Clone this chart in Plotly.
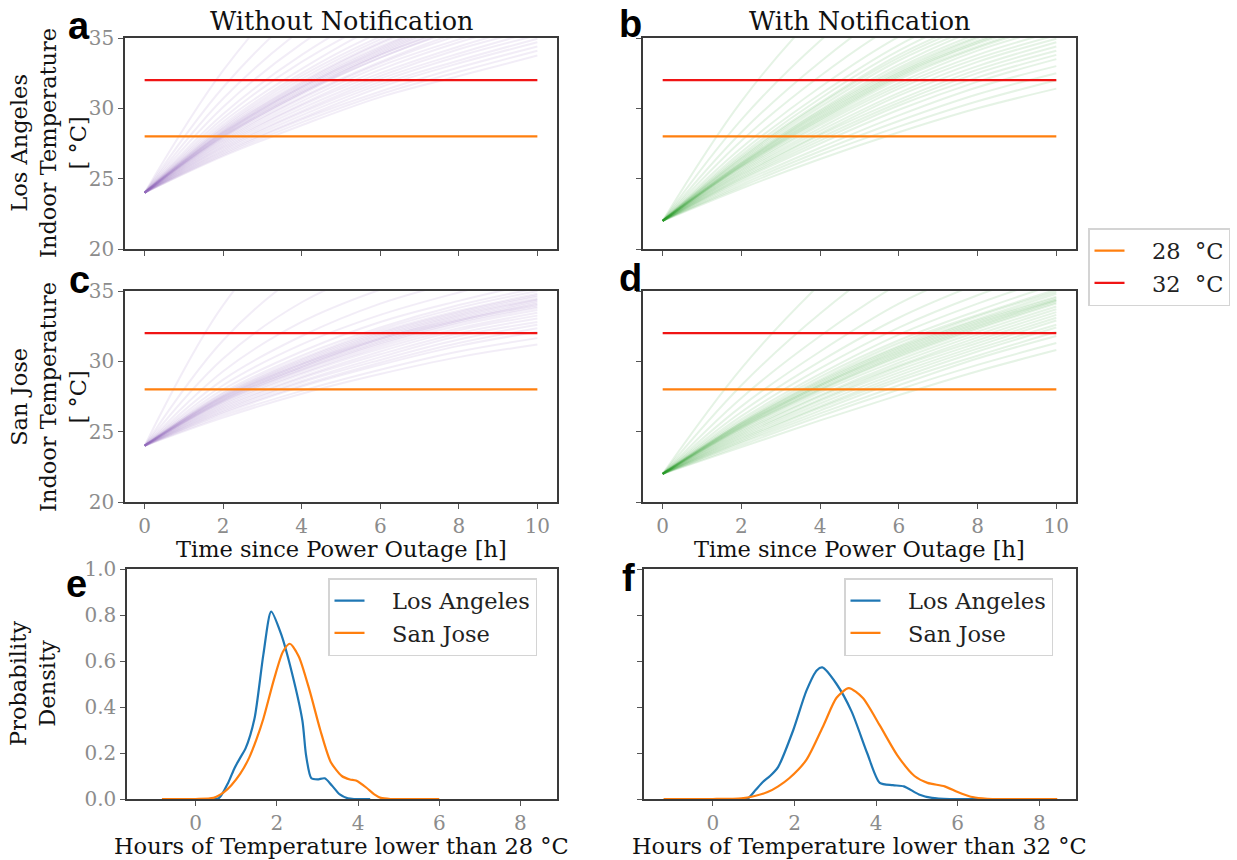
import plotly.graph_objects as go

# ---------------- data ----------------
T_HOURS = [0, 2, 4, 6, 8, 10]

# Indoor temperature trajectories (values at T_HOURS)
LA_WITHOUT = [
    [24, 32.7, 39.0, 43.1, 46.2, 48.4],
    [24, 31.5, 37.0, 40.8, 43.4, 45.5],
    [24, 30.7, 35.6, 39.2, 41.6, 43.5],
    [24, 30.1, 34.6, 38.0, 40.2, 42.0],
    [24, 29.6, 33.8, 37.0, 39.1, 40.9],
    [24, 29.3, 33.3, 36.3, 38.4, 40.2],
    [24, 29.05, 32.8, 35.9, 37.9, 39.7],
    [24, 28.85, 32.5, 35.4, 37.5, 39.3],
    [24, 28.7, 32.3, 35.1, 37.3, 39.1],
    [24, 28.6, 32.1, 34.9, 37.1, 38.9],
    [24, 28.5, 31.9, 34.7, 36.9, 38.7],
    [24, 28.42, 31.8, 34.6, 36.7, 38.5],
    [24, 28.35, 31.7, 34.4, 36.5, 38.3],
    [24, 28.3, 31.6, 34.3, 36.5, 38.2],
    [24, 28.25, 31.5, 34.2, 36.4, 38.1],
    [24, 28.2, 31.5, 34.1, 36.3, 37.9],
    [24, 28.15, 31.4, 34.0, 36.2, 37.8],
    [24, 28.1, 31.3, 33.9, 36.1, 37.7],
    [24, 28.05, 31.2, 33.8, 35.9, 37.6],
    [24, 28.0, 31.1, 33.8, 35.8, 37.5],
    [24, 27.95, 31.1, 33.6, 35.7, 37.4],
    [24, 27.9, 31.0, 33.6, 35.6, 37.2],
    [24, 27.8, 30.8, 33.3, 35.4, 37.0],
    [24, 27.7, 30.7, 33.2, 35.2, 36.8],
    [24, 27.6, 30.5, 33.0, 34.9, 36.5],
    [24, 27.5, 30.3, 32.75, 34.7, 36.25],
    [24, 27.4, 30.2, 32.5, 34.4, 36.0],
    [24, 27.3, 30.0, 32.3, 34.2, 35.7],
    [24, 27.2, 29.8, 32.1, 33.9, 35.5],
    [24, 27.1, 29.7, 31.9, 33.7, 35.2],
    [24, 27.0, 29.5, 31.7, 33.4, 34.95],
    [24, 26.9, 29.3, 31.5, 33.2, 34.7],
    [24, 26.8, 29.2, 31.2, 32.9, 34.4],
    [24, 26.7, 29.0, 31.0, 32.6, 34.1],
    [24, 26.6, 28.8, 30.8, 32.3, 33.75],
]

LA_WITH = [
    [22, 30.5, 37.0, 42.0, 45.5, 48.0],
    [22, 29.2, 34.8, 39.3, 42.5, 44.9],
    [22, 28.3, 33.3, 37.4, 40.3, 42.5],
    [22, 27.7, 32.3, 36.1, 38.9, 41.0],
    [22, 27.2, 31.5, 35.1, 37.8, 39.8],
    [22, 26.9, 31.0, 34.5, 37.1, 39.15],
    [22, 26.7, 30.7, 34.1, 36.7, 38.7],
    [22, 26.55, 30.4, 33.8, 36.3, 38.3],
    [22, 26.45, 30.3, 33.6, 36.1, 38.1],
    [22, 26.35, 30.1, 33.4, 35.8, 37.7],
    [22, 26.25, 29.9, 33.1, 35.6, 37.4],
    [22, 26.15, 29.8, 32.9, 35.3, 37.1],
    [22, 26.1, 29.7, 32.75, 35.1, 36.9],
    [22, 26.05, 29.6, 32.6, 35.0, 36.8],
    [22, 26.0, 29.5, 32.5, 34.8, 36.6],
    [22, 25.95, 29.4, 32.4, 34.7, 36.5],
    [22, 25.9, 29.3, 32.3, 34.6, 36.3],
    [22, 25.85, 29.2, 32.2, 34.4, 36.2],
    [22, 25.8, 29.1, 32.05, 34.3, 36.05],
    [22, 25.7, 28.95, 31.8, 34.1, 35.8],
    [22, 25.6, 28.8, 31.6, 33.8, 35.5],
    [22, 25.5, 28.6, 31.4, 33.55, 35.2],
    [22, 25.4, 28.4, 31.1, 33.3, 34.95],
    [22, 25.3, 28.2, 30.9, 33.0, 34.7],
    [22, 25.2, 28.1, 30.6, 32.75, 34.4],
    [22, 25.1, 27.9, 30.4, 32.5, 34.1],
    [22, 25.0, 27.7, 30.2, 32.2, 33.8],
    [22, 24.9, 27.5, 29.9, 31.9, 33.5],
    [22, 24.75, 27.2, 29.5, 31.5, 33.0],
    [22, 24.6, 26.95, 29.1, 31.0, 32.5],
    [22, 24.45, 26.7, 28.7, 30.5, 32.0],
    [22, 24.3, 26.4, 28.3, 30.0, 31.4],
]

SJ_WITHOUT = [
    [24, 34.0, 40.2, 44.0, 47.0, 49.0],
    [24, 31.5, 36.3, 39.2, 41.5, 43.0],
    [24, 30.2, 34.2, 36.7, 38.6, 39.8],
    [24, 29.3, 32.8, 35.1, 36.8, 38.2],
    [24, 28.7, 31.8, 34.1, 35.7, 37.0],
    [24, 28.3, 31.2, 33.3, 34.9, 36.3],
    [24, 28.0, 30.7, 32.8, 34.3, 35.6],
    [24, 27.8, 30.4, 32.4, 34.0, 35.2],
    [24, 27.7, 30.2, 32.25, 33.8, 35.0],
    [24, 27.6, 30.1, 32.1, 33.6, 34.8],
    [24, 27.55, 30.0, 32.0, 33.5, 34.7],
    [24, 27.5, 29.9, 31.9, 33.4, 34.6],
    [24, 27.45, 29.8, 31.8, 33.3, 34.45],
    [24, 27.4, 29.8, 31.7, 33.2, 34.4],
    [24, 27.35, 29.7, 31.6, 33.1, 34.3],
    [24, 27.3, 29.6, 31.6, 33.0, 34.2],
    [24, 27.25, 29.6, 31.5, 32.9, 34.1],
    [24, 27.2, 29.5, 31.4, 32.9, 34.0],
    [24, 27.15, 29.4, 31.3, 32.8, 33.9],
    [24, 27.1, 29.35, 31.2, 32.7, 33.8],
    [24, 27.0, 29.2, 31.05, 32.55, 33.65],
    [24, 26.9, 29.1, 30.9, 32.35, 33.45],
    [24, 26.8, 28.9, 30.7, 32.2, 33.25],
    [24, 26.7, 28.8, 30.5, 32.0, 33.05],
    [24, 26.6, 28.6, 30.3, 31.8, 32.8],
    [24, 26.5, 28.5, 30.1, 31.55, 32.6],
    [24, 26.4, 28.3, 29.9, 31.3, 32.35],
    [24, 26.3, 28.2, 29.75, 31.1, 32.1],
    [24, 26.15, 27.9, 29.4, 30.7, 31.65],
    [24, 26.0, 27.7, 29.1, 30.3, 31.2],
]

SJ_WITH = [
    [22, 29.5, 35.5, 40.5, 44.0, 46.5],
    [22, 28.3, 33.4, 37.6, 40.6, 42.9],
    [22, 27.4, 31.8, 35.5, 38.2, 40.25],
    [22, 26.8, 30.7, 34.1, 36.6, 38.6],
    [22, 26.4, 30.0, 33.1, 35.5, 37.5],
    [22, 26.1, 29.5, 32.4, 34.7, 36.6],
    [22, 25.9, 29.1, 31.9, 34.1, 36.0],
    [22, 25.75, 28.9, 31.5, 33.6, 35.5],
    [22, 25.65, 28.7, 31.3, 33.3, 35.1],
    [22, 25.6, 28.6, 31.1, 33.2, 34.95],
    [22, 25.55, 28.5, 31.0, 33.0, 34.8],
    [22, 25.5, 28.4, 30.9, 32.9, 34.6],
    [22, 25.45, 28.3, 30.8, 32.8, 34.5],
    [22, 25.4, 28.3, 30.7, 32.7, 34.4],
    [22, 25.35, 28.2, 30.6, 32.6, 34.35],
    [22, 25.3, 28.1, 30.5, 32.5, 34.3],
    [22, 25.25, 28.0, 30.4, 32.4, 34.2],
    [22, 25.2, 27.95, 30.3, 32.3, 34.1],
    [22, 25.1, 27.8, 30.1, 32.1, 33.9],
    [22, 25.0, 27.6, 29.9, 31.9, 33.7],
    [22, 24.9, 27.5, 29.7, 31.7, 33.5],
    [22, 24.8, 27.3, 29.6, 31.5, 33.3],
    [22, 24.7, 27.2, 29.4, 31.3, 33.1],
    [22, 24.6, 27.0, 29.2, 31.1, 32.9],
    [22, 24.5, 26.8, 29.0, 30.9, 32.6],
    [22, 24.4, 26.7, 28.8, 30.7, 32.4],
    [22, 24.3, 26.5, 28.6, 30.4, 32.1],
    [22, 24.2, 26.3, 28.3, 30.2, 31.8],
    [22, 24.05, 26.1, 28.0, 29.75, 31.3],
    [22, 23.9, 25.8, 27.6, 29.3, 30.8],
]

THRESH_X = [0, 10]
THRESH_28 = [28, 28]
THRESH_32 = [32, 32]

# KDE curves (hours below threshold)
E_LA_X = [-0.3, 0.3, 0.57, 0.8, 0.96, 1.1, 1.23, 1.45, 1.67, 1.86, 2.1, 2.37, 2.63, 2.72, 2.85, 3.0, 3.18, 3.35, 3.55, 3.75, 3.9, 4.3]
E_LA_Y = [0, 0, 0.003, 0.07, 0.135, 0.18, 0.22, 0.35, 0.63, 0.815, 0.72, 0.55, 0.34, 0.19, 0.09, 0.085, 0.09, 0.06, 0.02, 0.003, 0, 0]
E_SJ_X = [-0.83, 0.0, 0.44, 0.7, 0.88, 1.1, 1.32, 1.5, 1.67, 1.93, 2.15, 2.32, 2.54, 2.81, 3.07, 3.33, 3.6, 3.8, 3.95, 4.2, 4.4, 4.56, 4.8, 6.0]
E_SJ_Y = [0, 0, 0.005, 0.03, 0.06, 0.11, 0.18, 0.26, 0.35, 0.52, 0.64, 0.675, 0.62, 0.47, 0.3, 0.16, 0.1, 0.085, 0.08, 0.05, 0.02, 0.005, 0, 0]
F_LA_X = [-0.5, 0.7, 0.86, 1.05, 1.23, 1.4, 1.6, 1.97, 2.29, 2.55, 2.68, 3.03, 3.4, 3.78, 4.09, 4.41, 4.68, 5.05, 5.37, 5.8, 6.5]
F_LA_Y = [0, 0, 0.003, 0.04, 0.075, 0.1, 0.14, 0.3, 0.47, 0.56, 0.572, 0.5, 0.38, 0.2, 0.07, 0.06, 0.055, 0.02, 0.005, 0, 0]
F_SJ_X = [-1.21, 0.0, 0.7, 1.0, 1.34, 1.6, 1.87, 2.29, 2.71, 3.03, 3.33, 3.67, 4.09, 4.52, 4.94, 5.26, 5.68, 6.0, 6.32, 6.6, 6.85, 7.5, 8.44]
F_SJ_Y = [0, 0, 0.003, 0.012, 0.03, 0.055, 0.09, 0.17, 0.32, 0.44, 0.482, 0.44, 0.32, 0.19, 0.1, 0.07, 0.055, 0.03, 0.01, 0.003, 0, 0, 0]

# ---------------- styles ----------------
W, H = 1237, 860
SERIF = "DejaVu Serif"
PURPLE = "rgba(148,103,189,0.12)"
GREEN = "rgba(44,160,44,0.12)"
ORANGE = "#ff7f0e"
RED = "#f01414"
BLUE = "#1f77b4"

fig = go.Figure()

panels = [
    ("x", "y", LA_WITHOUT, PURPLE),
    ("x2", "y2", LA_WITH, GREEN),
    ("x3", "y3", SJ_WITHOUT, PURPLE),
    ("x4", "y4", SJ_WITH, GREEN),
]
for i, (xa, ya, lines, col) in enumerate(panels):
    for ln in lines:
        fig.add_trace(go.Scatter(x=T_HOURS, y=ln, mode="lines", xaxis=xa, yaxis=ya,
                                 line=dict(color=col, width=2, shape="spline"),
                                 showlegend=False, hoverinfo="skip"))
    fig.add_trace(go.Scatter(x=THRESH_X, y=THRESH_28, mode="lines", xaxis=xa, yaxis=ya,
                             line=dict(color=ORANGE, width=2.2), name="\u200328  °C",
                             showlegend=(i == 0), legend="legend"))
    fig.add_trace(go.Scatter(x=THRESH_X, y=THRESH_32, mode="lines", xaxis=xa, yaxis=ya,
                             line=dict(color=RED, width=2.2), name="\u200332  °C",
                             showlegend=(i == 0), legend="legend"))

for xa, ya, lx, ly, sx, sy, lg in [("x5", "y5", E_LA_X, E_LA_Y, E_SJ_X, E_SJ_Y, "legend2"),
                                   ("x6", "y6", F_LA_X, F_LA_Y, F_SJ_X, F_SJ_Y, "legend3")]:
    fig.add_trace(go.Scatter(x=lx, y=ly, mode="lines", xaxis=xa, yaxis=ya, name="\u2003Los Angeles",
                             line=dict(color=BLUE, width=2.2, shape="spline", smoothing=0.7), legend=lg))
    fig.add_trace(go.Scatter(x=sx, y=sy, mode="lines", xaxis=xa, yaxis=ya, name="\u2003San Jose",
                             line=dict(color=ORANGE, width=2.2, shape="spline", smoothing=0.7), legend=lg))


def xd(a, b):
    return [a / W, b / W]


def yd(top, bottom):
    return [1 - bottom / H, 1 - top / H]


axis_common = dict(showline=True, mirror=True, linecolor="#3a3a3a", linewidth=1.5,
                   ticks="outside", ticklen=5, tickwidth=1.2, tickcolor="#555",
                   tickfont=dict(family=SERIF, size=20, color="#8c8c8c"),
                   showgrid=False, zeroline=False, automargin=False)

top_x = dict(range=[-0.5, 10.5], tickvals=[0, 2, 4, 6, 8, 10], **axis_common)
top_y = dict(range=[20, 35], tickvals=[20, 25, 30, 35], **axis_common)
kde_x = dict(range=[-1.69, 8.9], tickvals=[0, 2, 4, 6, 8], **axis_common)
kde_y = dict(range=[0, 1.0], tickvals=[0, 0.2, 0.4, 0.6, 0.8, 1.0], tickformat=".1f", **axis_common)

L1, R1, L2, R2 = 125, 557, 643, 1076
layout_axes = dict(
    xaxis=dict(domain=xd(L1, R1), anchor="y", showticklabels=False, **top_x),
    yaxis=dict(domain=yd(38, 249), anchor="x", **top_y),
    xaxis2=dict(domain=xd(L2, R2), anchor="y2", showticklabels=False, **top_x),
    yaxis2=dict(domain=yd(38, 249), anchor="x2", showticklabels=False, **top_y),
    xaxis3=dict(domain=xd(L1, R1), anchor="y3", **top_x),
    yaxis3=dict(domain=yd(291, 502), anchor="x3", **top_y),
    xaxis4=dict(domain=xd(L2, R2), anchor="y4", **top_x),
    yaxis4=dict(domain=yd(291, 502), anchor="x4", showticklabels=False, **top_y),
    xaxis5=dict(domain=xd(127, R1), anchor="y5", **kde_x),
    yaxis5=dict(domain=yd(569, 799), anchor="x5", **kde_y),
    xaxis6=dict(domain=xd(644, R2), anchor="y6", **kde_x),
    yaxis6=dict(domain=yd(569, 799), anchor="x6", showticklabels=False, **kde_y),
)

legend_common = dict(font=dict(family=SERIF, size=22.5, color="#222"), bgcolor="white",
                     bordercolor="#d4d4d4", borderwidth=1.5, xanchor="left", yanchor="top",
                     tracegroupgap=0)

annotations = []


def ann(text, x, y, size, angle=0, family=SERIF, color="#111"):
    annotations.append(dict(text=text, x=x / W, y=1 - y / H, xref="paper", yref="paper",
                            showarrow=False, textangle=angle, xanchor="center", yanchor="middle",
                            font=dict(family=family, size=size, color=color)))


ann("Without Notification", 341, 21, 25.5)
ann("With Notification", 859, 21, 25.5)
ann("Los Angeles<br>Indoor Temperature<br>[ °C]", 48, 143, 22.5, angle=-90)
ann("San Jose<br>Indoor Temperature<br>[ °C]", 48, 397, 22.5, angle=-90)
ann("Probability<br>Density", 32, 684, 22.5, angle=-90)
ann("Time since Power Outage [h]", 341, 549, 22.5)
ann("Time since Power Outage [h]", 859, 549, 22.5)
ann("Hours of Temperature lower than 28 °C", 341, 846, 22.5)
ann("Hours of Temperature lower than 32 °C", 859, 846, 22.5)
for letter, x, y in [("a", 79, 26), ("b", 631, 24), ("c", 79, 280), ("d", 631, 278),
                     ("e", 76, 584), ("f", 628, 578)]:
    ann("<b>%s</b>" % letter, x, y, 38, family="Liberation Sans", color="#000")

fig.update_layout(
    width=W, height=H, margin=dict(l=0, r=0, t=0, b=0),
    plot_bgcolor="white", paper_bgcolor="white",
    annotations=annotations,
    legend=dict(x=1088 / W, y=1 - 228 / H, **legend_common),
    legend2=dict(x=328 / W, y=1 - 578 / H, **legend_common),
    legend3=dict(x=844 / W, y=1 - 578 / H, **legend_common),
    **layout_axes,
)

fig.write_html("out.html")
